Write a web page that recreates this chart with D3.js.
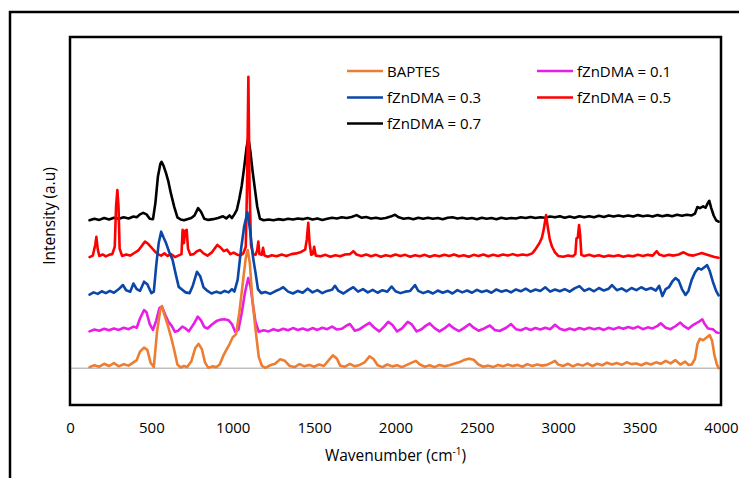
<!DOCTYPE html>
<html>
<head>
<meta charset="utf-8">
<script src="https://cdn.jsdelivr.net/npm/d3@7"></script>
<style>
  html, body { margin: 0; padding: 0; background: #fff; }
  text { font-family: "Open Sans", sans-serif; }
</style>
</head>
<body>
<svg id="chart" width="739" height="478"></svg>
<script>
// ---- data (wavenumber cm-1, intensity a.u., offset spectra) ----
const xTicks = [0, 500, 1000, 1500, 2000, 2500, 3000, 3500, 4000];
const seriesNames = ["BAPTES", "fZnDMA = 0.1", "fZnDMA = 0.3", "fZnDMA = 0.5", "fZnDMA = 0.7"];

const baptes = [[120,0.3],[150,0.8],[180,0.4],[210,1.2],[240,0.6],[270,1.4],[300,0.5],[330,1.1],[360,0.7],[390,1.6],[410,2.2],[430,4.5],[455,5.6],[475,5.0],[495,1.5],[515,0.3],[535,10.0],[555,16.0],[565,16.9],[580,14.5],[600,11.8],[620,8.6],[640,5.0],[660,1.0],[680,0.2],[700,0.6],[720,0.3],[745,1.8],[770,5.5],[790,6.6],[810,5.2],[830,1.5],[850,0.1],[875,0.5],[900,0.3],[920,1.0],[940,3.2],[960,4.9],[980,6.5],[1000,8.4],[1020,9.2],[1040,15.0],[1060,22.5],[1080,30.0],[1092,32.1],[1105,28.5],[1120,19.0],[1140,10.5],[1160,3.0],[1180,0.6],[1200,0.1],[1230,0.8],[1260,1.2],[1290,2.4],[1320,2.0],[1350,0.6],[1380,0.3],[1410,1.1],[1440,0.5],[1470,0.9],[1500,0.4],[1530,1.0],[1560,0.6],[1590,2.2],[1615,3.5],[1640,2.6],[1660,0.7],[1690,0.4],[1720,1.2],[1750,0.5],[1780,0.9],[1810,1.6],[1840,3.2],[1865,2.5],[1890,0.8],[1920,0.3],[1950,1.0],[1980,0.5],[2010,0.8],[2040,0.3],[2070,0.9],[2100,1.5],[2125,2.0],[2150,1.0],[2180,0.4],[2210,0.8],[2240,0.3],[2270,0.9],[2300,0.5],[2330,0.8],[2360,1.2],[2390,1.6],[2420,2.2],[2450,2.6],[2480,2.3],[2510,1.0],[2540,0.4],[2570,0.7],[2600,0.3],[2630,0.9],[2660,0.5],[2690,1.0],[2720,0.6],[2750,0.9],[2780,0.4],[2810,1.1],[2840,0.6],[2870,1.0],[2900,0.7],[2930,0.9],[2960,1.5],[2980,2.0],[3000,1.0],[3030,0.6],[3060,1.2],[3090,0.5],[3120,1.1],[3150,0.7],[3180,1.3],[3210,0.6],[3240,1.2],[3270,0.8],[3300,1.5],[3330,1.0],[3360,1.4],[3390,0.9],[3420,1.6],[3450,1.1],[3480,1.3],[3510,0.8],[3540,1.4],[3570,1.0],[3600,1.6],[3630,1.2],[3660,2.0],[3690,1.3],[3720,2.2],[3750,1.0],[3780,1.8],[3800,0.9],[3820,1.0],[3840,2.5],[3855,6.5],[3870,8.0],[3890,7.6],[3910,8.3],[3930,9.0],[3945,7.5],[3960,3.5],[3975,1.0],[3985,0.0]];

const zn01 = [[120,10.0],[150,10.5],[180,10.2],[210,10.7],[240,10.3],[270,10.8],[300,10.4],[330,11.0],[360,10.6],[390,11.3],[410,11.0],[430,13.5],[455,15.8],[470,15.2],[490,12.0],[510,10.4],[530,13.0],[550,16.4],[565,16.7],[585,14.5],[605,12.6],[625,11.5],[645,9.9],[665,10.2],[690,11.3],[710,10.8],[730,10.0],[760,12.0],[785,14.0],[805,13.0],[825,11.2],[845,10.8],[870,11.8],[900,12.8],[925,13.2],[950,13.3],[975,13.0],[995,12.0],[1015,9.9],[1035,10.5],[1055,15.0],[1075,20.5],[1095,24.5],[1110,22.0],[1125,17.0],[1140,12.5],[1160,9.9],[1190,10.3],[1220,10.0],[1250,10.6],[1280,10.2],[1310,10.7],[1340,10.3],[1370,10.9],[1400,10.4],[1430,10.8],[1460,10.3],[1490,10.9],[1520,10.4],[1550,11.0],[1580,10.6],[1610,11.3],[1640,10.5],[1670,10.7],[1700,11.6],[1720,12.0],[1750,10.2],[1780,10.6],[1810,11.5],[1840,12.3],[1870,11.0],[1900,10.0],[1930,11.3],[1955,12.6],[1980,11.8],[2010,10.0],[2040,10.8],[2075,12.6],[2100,11.9],[2130,10.0],[2160,10.6],[2185,11.5],[2210,12.2],[2240,10.9],[2270,10.0],[2300,10.8],[2330,11.9],[2360,10.8],[2390,10.1],[2420,10.9],[2455,12.0],[2480,11.0],[2510,10.2],[2545,10.8],[2580,11.6],[2610,10.4],[2640,10.1],[2680,11.0],[2710,12.0],[2740,10.6],[2770,10.3],[2800,10.9],[2830,10.4],[2860,10.9],[2890,10.5],[2920,11.0],[2950,10.6],[2980,11.8],[3010,10.7],[3040,10.3],[3070,10.8],[3100,10.4],[3130,10.9],[3160,10.5],[3190,11.0],[3220,10.6],[3250,10.9],[3280,10.4],[3310,11.0],[3340,10.6],[3370,11.1],[3400,10.7],[3430,11.2],[3460,10.8],[3490,11.3],[3520,10.6],[3550,11.1],[3580,10.8],[3610,11.5],[3630,12.2],[3660,11.0],[3690,10.6],[3720,11.4],[3750,12.4],[3770,11.5],[3800,10.7],[3830,11.8],[3860,12.5],[3885,13.3],[3900,12.0],[3920,10.8],[3950,10.6],[3970,9.8],[3985,9.6]];

const zn03 = [[120,20.0],[145,20.6],[170,20.2],[195,20.9],[220,20.4],[245,21.0],[270,20.5],[300,21.5],[325,22.6],[345,21.2],[370,20.8],[390,23.0],[410,21.5],[430,21.0],[455,23.5],[475,22.8],[500,20.4],[515,20.8],[530,28.0],[545,34.0],[560,37.1],[575,35.5],[590,34.0],[610,31.5],[630,29.5],[650,25.5],[668,22.1],[690,21.3],[710,20.6],[735,20.4],[755,22.5],[780,26.2],[800,25.0],[820,22.0],[845,21.0],[870,20.3],[900,20.8],[925,20.4],[950,21.0],[975,20.6],[995,21.5],[1010,20.8],[1030,24.0],[1050,32.0],[1070,38.5],[1090,42.4],[1105,38.0],[1125,30.0],[1140,25.9],[1155,21.5],[1175,20.4],[1200,20.7],[1230,20.2],[1260,20.9],[1290,21.5],[1310,22.0],[1340,20.8],[1370,20.3],[1400,21.0],[1430,20.5],[1460,21.6],[1490,20.6],[1520,21.2],[1550,20.4],[1580,21.0],[1610,21.3],[1628,22.4],[1650,21.0],[1680,20.3],[1710,21.2],[1741,22.0],[1770,20.8],[1800,21.5],[1830,20.6],[1860,21.3],[1890,20.5],[1920,21.2],[1950,20.8],[1976,22.2],[2000,20.9],[2030,20.4],[2060,20.8],[2090,21.0],[2120,22.6],[2140,21.0],[2170,20.4],[2200,20.9],[2230,20.3],[2260,21.1],[2290,20.5],[2320,21.0],[2350,20.3],[2380,21.2],[2410,20.6],[2440,21.1],[2470,20.5],[2500,21.3],[2530,20.7],[2560,21.1],[2590,20.5],[2620,21.4],[2650,20.8],[2680,21.2],[2710,20.6],[2740,21.4],[2770,20.9],[2800,21.6],[2830,20.8],[2860,21.4],[2890,21.0],[2920,22.0],[2950,20.8],[2980,21.4],[3010,20.9],[3040,21.5],[3070,20.8],[3100,21.7],[3130,22.3],[3160,21.0],[3190,21.6],[3220,20.9],[3250,21.8],[3280,21.1],[3310,21.6],[3330,22.6],[3360,21.2],[3390,21.7],[3420,20.9],[3450,21.8],[3480,21.2],[3510,22.0],[3540,21.3],[3570,21.8],[3600,21.1],[3620,22.4],[3640,19.6],[3660,21.5],[3680,22.0],[3700,23.5],[3720,24.5],[3740,23.8],[3760,21.5],[3782,19.9],[3800,21.0],[3820,24.0],[3840,26.0],[3860,27.2],[3880,26.8],[3900,27.5],[3915,28.0],[3930,26.5],[3950,23.5],[3970,21.0],[3985,19.8]];

const zn05 = [[120,30.2],[140,30.6],[155,33.5],[162,35.7],[170,32.5],[180,30.5],[200,30.9],[220,30.4],[240,30.8],[260,31.0],[275,33.0],[283,44.0],[291,48.4],[298,44.0],[305,32.5],[320,30.5],[345,30.9],[370,30.6],[395,31.3],[420,32.0],[445,33.5],[461,34.4],[480,33.8],[500,32.8],[520,31.8],[540,31.0],[560,30.6],[580,31.2],[600,30.5],[620,31.0],[645,30.2],[665,30.6],[685,31.0],[692,37.6],[700,34.0],[708,37.4],[717,37.6],[725,32.5],[740,30.8],[760,31.0],[780,31.8],[800,32.1],[820,31.2],[845,30.6],[870,31.4],[890,32.6],[905,33.5],[925,32.8],[945,31.8],[965,32.2],[985,31.0],[1005,31.4],[1025,30.9],[1045,30.6],[1065,31.2],[1080,33.0],[1088,50.0],[1096,79.2],[1103,50.0],[1112,33.5],[1125,31.0],[1140,30.8],[1150,32.0],[1157,34.4],[1164,31.0],[1178,30.8],[1186,32.7],[1195,30.6],[1215,30.3],[1240,30.7],[1270,30.4],[1300,30.9],[1330,30.5],[1360,31.0],[1390,31.2],[1420,31.6],[1445,32.2],[1455,35.0],[1464,39.5],[1472,34.0],[1482,30.8],[1492,31.0],[1500,33.0],[1510,30.6],[1540,30.4],[1570,30.8],[1600,30.3],[1630,30.7],[1660,30.4],[1690,30.9],[1720,31.0],[1741,31.8],[1760,30.9],[1790,30.5],[1820,30.9],[1850,30.4],[1880,30.8],[1910,30.3],[1940,30.7],[1970,30.4],[2000,30.9],[2030,30.5],[2060,30.8],[2090,30.3],[2120,30.7],[2150,30.4],[2180,30.8],[2210,30.3],[2240,30.7],[2270,30.4],[2300,30.8],[2330,30.5],[2360,30.9],[2390,30.4],[2420,30.7],[2450,30.3],[2480,30.8],[2510,30.5],[2540,30.9],[2570,30.4],[2600,30.8],[2630,30.5],[2660,30.9],[2690,30.6],[2720,31.0],[2750,30.6],[2780,30.9],[2810,30.7],[2840,31.2],[2855,32.0],[2870,33.0],[2885,34.0],[2900,35.5],[2912,38.0],[2925,41.6],[2935,38.5],[2948,35.0],[2962,33.0],[2980,31.5],[3000,30.5],[3030,30.3],[3060,30.6],[3090,30.4],[3105,31.0],[3112,35.3],[3120,35.5],[3128,38.9],[3135,36.0],[3142,30.8],[3160,30.5],[3190,30.8],[3220,30.4],[3250,30.7],[3280,30.3],[3310,30.6],[3340,30.4],[3370,30.7],[3400,30.3],[3430,30.6],[3460,30.4],[3490,30.8],[3520,30.5],[3550,30.8],[3580,30.6],[3605,31.8],[3620,30.9],[3650,30.5],[3680,30.8],[3710,30.6],[3740,30.9],[3770,31.5],[3800,30.8],[3830,30.6],[3860,31.0],[3882,31.3],[3910,30.9],[3940,30.5],[3960,30.2],[3985,30.0]];

const zn07 = [[120,40.2],[150,40.6],[180,40.3],[210,40.8],[240,40.4],[270,40.9],[300,40.6],[330,41.0],[360,40.7],[390,41.2],[410,41.0],[430,41.8],[450,42.2],[470,41.8],[490,40.6],[510,40.5],[525,45.0],[540,52.0],[555,55.5],[563,56.1],[575,55.0],[590,53.0],[603,51.0],[620,47.5],[640,43.9],[660,41.0],[680,40.4],[700,40.2],[720,40.5],[745,40.8],[765,41.5],[787,43.5],[805,42.5],[825,40.6],[850,40.3],[880,40.5],[910,40.8],[940,41.3],[960,40.7],[980,41.5],[995,40.8],[1010,41.8],[1025,43.0],[1040,46.0],[1055,49.5],[1070,54.5],[1085,60.0],[1096,62.6],[1108,59.0],[1122,53.5],[1137,48.4],[1150,44.0],[1167,40.6],[1190,40.2],[1220,40.4],[1250,40.2],[1280,40.5],[1310,40.3],[1340,40.6],[1370,40.4],[1400,40.7],[1430,40.5],[1460,40.8],[1490,40.4],[1520,40.7],[1550,40.3],[1580,40.6],[1610,40.9],[1640,40.7],[1670,41.0],[1700,40.8],[1730,41.1],[1761,41.6],[1790,40.9],[1820,41.1],[1850,40.7],[1880,40.9],[1910,40.6],[1940,40.8],[1970,41.2],[1997,41.7],[2020,41.0],[2050,40.6],[2080,40.8],[2110,40.5],[2140,40.9],[2170,40.6],[2200,40.9],[2230,40.6],[2260,40.8],[2290,40.5],[2320,40.9],[2350,41.0],[2380,40.7],[2410,40.9],[2440,40.6],[2470,40.8],[2500,40.5],[2530,40.9],[2560,40.6],[2590,40.8],[2620,40.5],[2650,40.9],[2680,40.6],[2710,40.8],[2740,40.7],[2770,41.0],[2800,40.8],[2830,41.1],[2860,40.8],[2890,41.0],[2920,40.9],[2950,41.2],[2980,41.0],[3010,41.3],[3040,40.9],[3070,41.2],[3100,40.9],[3130,41.3],[3160,41.0],[3190,41.3],[3220,41.0],[3250,41.4],[3280,41.1],[3310,41.5],[3340,41.2],[3370,41.5],[3400,41.2],[3430,41.5],[3460,41.2],[3490,41.6],[3520,41.3],[3550,41.5],[3580,41.2],[3610,41.6],[3640,41.3],[3670,41.6],[3700,41.3],[3730,41.7],[3760,41.4],[3790,41.7],[3820,41.5],[3840,42.0],[3855,43.8],[3870,43.5],[3890,44.0],[3905,43.6],[3918,44.8],[3928,45.5],[3940,43.5],[3955,41.5],[3970,40.2],[3985,39.8]];

const seriesData = [baptes, zn01, zn03, zn05, zn07];
const seriesColors = ["#ED7D31", "#E61EE6", "#0B47A8", "#FF0000", "#000000"];

// ---- layout ----
const svg = d3.select("#chart");
const plot = { left: 70, right: 721, top: 37, bottom: 405 };

const x = d3.scaleLinear().domain([0, 4000]).range([plot.left, plot.right]);
const y = d3.scaleLinear().domain([-10, 90]).range([plot.bottom, plot.top]);

// outer chart-area border
svg.append("rect")
  .attr("x", 10).attr("y", 12).attr("width", 760).attr("height", 500)
  .attr("fill", "none").attr("stroke", "#000").attr("stroke-width", 2.5);

// zero line (horizontal axis at y = 0)
svg.append("line")
  .attr("x1", plot.left).attr("x2", plot.right)
  .attr("y1", y(0)).attr("y2", y(0))
  .attr("stroke", "#BFBFBF").attr("stroke-width", 1.5);

// series (drawn last-to-first so BAPTES sits on top)
const line = d3.line().x(d => x(d[0])).y(d => y(d[1])).curve(d3.curveLinear);
const order = [4, 3, 2, 1, 0];
order.forEach(i => {
  svg.append("path")
    .datum(seriesData[i])
    .attr("d", line)
    .attr("fill", "none")
    .attr("stroke", seriesColors[i])
    .attr("stroke-width", 2.6)
    .attr("stroke-linejoin", "round")
    .attr("stroke-linecap", "round");
});

// plot-area border
svg.append("rect")
  .attr("x", plot.left).attr("y", plot.top)
  .attr("width", plot.right - plot.left).attr("height", plot.bottom - plot.top)
  .attr("fill", "none").attr("stroke", "#000").attr("stroke-width", 2.5);

// x axis tick labels
const xAxis = d3.axisBottom(x).tickValues(xTicks).tickSize(0).tickPadding(17).tickFormat(d3.format("d"));
const gx = svg.append("g").attr("transform", `translate(0,${plot.bottom})`).call(xAxis);
gx.select(".domain").remove();
gx.selectAll("text").attr("font-size", 15).attr("fill", "#000")
  .style("font-family", '"Open Sans", sans-serif');

// axis titles
const xt = svg.append("text")
  .attr("x", (plot.left + plot.right) / 2).attr("y", 461)
  .attr("text-anchor", "middle").attr("font-size", 15.5).attr("fill", "#000");
xt.append("tspan").text("Wavenumber (cm");
xt.append("tspan").text("-1").attr("font-size", 10).attr("dy", -6);
xt.append("tspan").text(")").attr("dy", 6);

svg.append("text")
  .attr("transform", "translate(55,216) rotate(-90)")
  .attr("text-anchor", "middle").attr("font-size", 15.5).attr("fill", "#000")
  .text("Intensity (a.u)");

// legend
const legendPos = [
  { lx: 347, ly: 71 },
  { lx: 537, ly: 71 },
  { lx: 347, ly: 97.5 },
  { lx: 537, ly: 97.5 },
  { lx: 347, ly: 123.5 }
];
seriesNames.forEach((name, i) => {
  const p = legendPos[i];
  svg.append("line")
    .attr("x1", p.lx).attr("x2", p.lx + 36)
    .attr("y1", p.ly).attr("y2", p.ly)
    .attr("stroke", seriesColors[i]).attr("stroke-width", 2.5);
  svg.append("text")
    .attr("x", p.lx + 40).attr("y", p.ly + 5.5)
    .attr("font-size", 15).attr("fill", "#000")
    .text(name);
});
</script>
</body>
</html>
